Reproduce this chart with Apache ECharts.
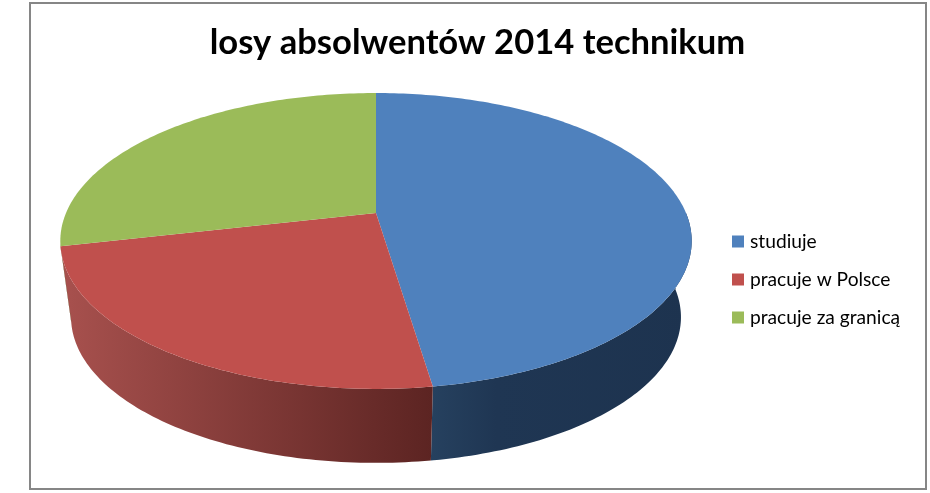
<!DOCTYPE html>
<html>
<head>
<meta charset="utf-8">
<title>losy absolwentów 2014 technikum</title>
<script src="https://cdn.jsdelivr.net/npm/echarts@6/dist/echarts.min.js"></script>
<style>
html, body { margin: 0; padding: 0; background: #fff; }
#chart { width: 930px; height: 493px; }
</style>
</head>
<body>
<div id="chart"></div>
<script>
const chartTitle = 'losy absolwentów 2014 technikum';
const categories = ['studiuje', 'pracuje w Polsce', 'pracuje za granicą'];
const values = [50, 25, 30];

const topColors = ['#4F81BD', '#C0504D', '#9BBB59'];
// side wall gradient, left to right
const sideStops = [
  [{ offset: 0, color: '#26415F' }, { offset: 0.25, color: '#1F3653' }, { offset: 1, color: '#1D334F' }],
  [{ offset: 0, color: '#A8514E' }, { offset: 1, color: '#5C2422' }],
  [{ offset: 0, color: '#5D7035' }, { offset: 1, color: '#5D7035' }],
];

// the pie seen in perspective: centre of the circle, then the projection terms
const cx = 376;
const cy = 213;
const scaleX = 310;
const scaleY = 102.4;
const persp = -0.189;
// base of the pie compared with its top face
const baseShrinkX = 0.966;
const baseShrinkY = 0.985;
const depth = 76.6;
// part of the wall that faces the viewer, degrees clockwise from 12 o'clock
const wallFrom = 90;
const wallTo = 258;

const total = values.reduce((a, b) => a + b, 0);

function sliceAngles(i) {
  const before = values.slice(0, i).reduce((a, b) => a + b, 0);
  return [before / total * 360, (before + values[i]) / total * 360];
}

function topPoint(deg) {
  const rad = deg * Math.PI / 180;
  const u = Math.sin(rad);
  const v = -Math.cos(rad);
  const w = persp * v + 1;
  return [cx + scaleX * u / w, (cy + scaleY * v) / w];
}

function basePoint(deg) {
  const p = topPoint(deg);
  return [cx + (p[0] - cx) * baseShrinkX, cy + (p[1] - cy) * baseShrinkY + depth];
}

function arc(from, to, fn) {
  const pts = [];
  for (let d = from; d < to; d += 1) pts.push(fn(d));
  pts.push(fn(to));
  return pts;
}

function renderSlice(i) {
  return function () {
    const [start, end] = sliceAngles(i);
    const children = [];
    const wallStart = Math.max(start, wallFrom);
    const wallEnd = Math.min(end, wallTo);
    if (wallStart < wallEnd) {
      const upper = arc(wallStart, wallEnd, topPoint);
      const lower = arc(wallStart, wallEnd, basePoint).reverse();
      const xs = upper.concat(lower).map((p) => p[0]);
      children.push({
        type: 'polygon',
        shape: { points: upper.concat(lower) },
        style: {
          fill: new echarts.graphic.LinearGradient(
            Math.min(...xs), 0, Math.max(...xs), 0,
            sideStops[i],
            true,
          ),
        },
      });
    }
    children.push({
      type: 'polygon',
      z2: 10,
      shape: { points: [[cx, cy]].concat(arc(start, end, topPoint)) },
      style: { fill: topColors[i] },
    });
    return { type: 'group', children };
  };
}

const chart = echarts.init(document.getElementById('chart'));
chart.setOption({
  animation: false,
  backgroundColor: '#fff',
  title: {
    text: chartTitle,
    left: 472.5,
    top: 20,
    textAlign: 'center',
    textStyle: { fontFamily: 'Lato', fontSize: 34.6, fontWeight: 'bold', color: '#000' },
  },
  legend: {
    orient: 'vertical',
    left: 732,
    top: 232,
    padding: 0,
    icon: 'rect',
    itemWidth: 12,
    itemHeight: 12,
    itemGap: 19,
    data: categories,
    textStyle: { fontFamily: 'Lato', fontSize: 19.2, color: '#000', padding: [0, 0, 0, 1] },
  },
  graphic: [{
    type: 'rect',
    shape: { x: 30, y: 3, width: 896, height: 486 },
    style: { fill: 'none', stroke: '#868686', lineWidth: 2 },
    silent: true,
  }],
  series: categories.map((name, i) => ({
    type: 'custom',
    name,
    coordinateSystem: 'none',
    silent: true,
    itemStyle: { color: topColors[i] },
    renderItem: renderSlice(i),
    data: [values[i]],
  })),
});
</script>
</body>
</html>
